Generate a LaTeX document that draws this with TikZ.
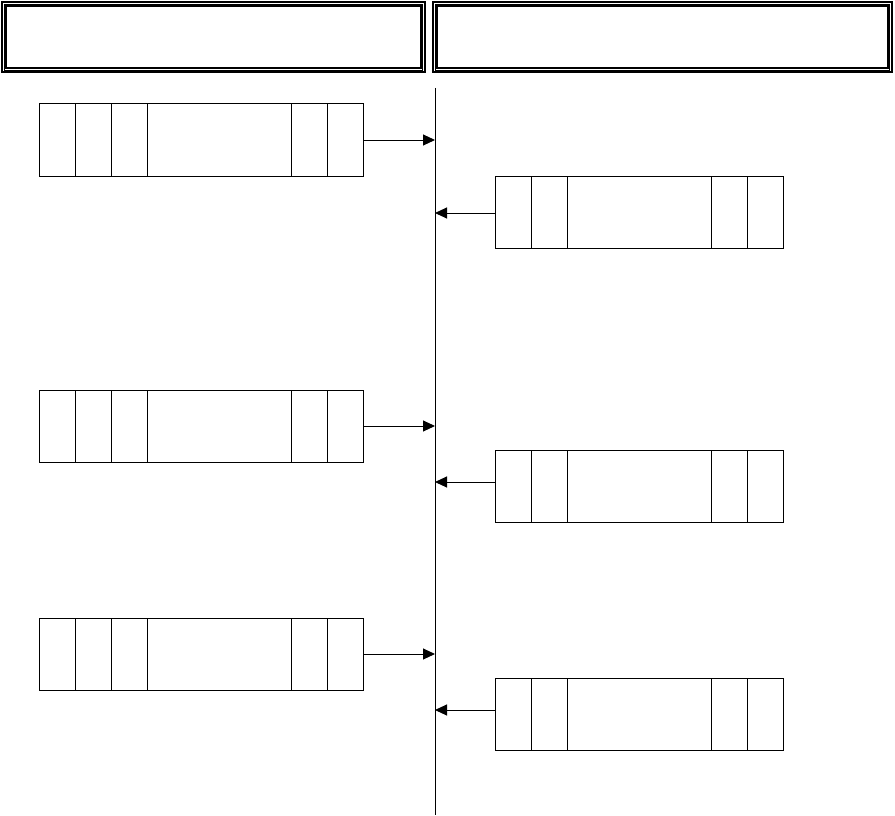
\documentclass[tikz,border=0pt]{standalone}
\usetikzlibrary{arrows.meta}
\begin{document}
\begin{tikzpicture}[x=1pt,y=-1pt,line width=1pt,
  hdr/.style={draw,line width=2pt,inner sep=0pt,outer sep=0pt},
  lbox/.style={draw,minimum width=324pt,minimum height=72pt,inner sep=0pt,outer sep=0pt},
  rbox/.style={draw,minimum width=288pt,minimum height=72pt,inner sep=0pt,outer sep=0pt},
  arr/.style={-{Triangle[length=12pt,width=11pt]}}]
\useasboundingbox (0,0) rectangle (895,816);
% headers
\node[hdr,minimum width=423pt,minimum height=70pt] (H1) at (213.5,37) {};
\node[hdr,minimum width=459pt,minimum height=70pt] (H2) at (662.5,37) {};
\foreach \h in {H1,H2}{
  \draw[line width=2pt] ([shift={(4,4)}]\h.north west) rectangle ([shift={(-4,-3.5)}]\h.south east);
  \draw[line width=0.8pt] ([shift={(2.2,2.2)}]\h.north west) rectangle ([shift={(-2.2,-1.8)}]\h.south east);
}
% spine
\coordinate (top) at (435,88);
\coordinate (bot) at (435,815);
\draw (top) -- (bot);
% left boxes
\node[lbox] (L1) at (201,140) {};
\node[lbox] (L2) at (201,426) {};
\node[lbox] (L3) at (201,654) {};
% right boxes
\node[rbox] (R1) at (639.5,212) {};
\node[rbox] (R2) at (639.5,486) {};
\node[rbox] (R3) at (639.5,714) {};
\foreach \b in {L1,L2,L3}{
  \foreach \d in {36,72,108,252,288}
    \draw ([xshift=\d pt]\b.north west) -- ([xshift=\d pt]\b.south west);
  \draw[arr] (\b.east) -- (\b.east -| top);
}
\foreach \b in {R1,R2,R3}{
  \foreach \d in {36,72,216,252}
    \draw ([xshift=\d pt]\b.north west) -- ([xshift=\d pt]\b.south west);
}
\draw[arr] ([yshift=-1pt]R1.west) -- ([yshift=-1pt]R1.west -| top);
\draw[arr] ([yshift=4pt]R2.west) -- ([yshift=4pt]R2.west -| top);
\draw[arr] ([yshift=4pt]R3.west) -- ([yshift=4pt]R3.west -| top);
\end{tikzpicture}
\end{document}
